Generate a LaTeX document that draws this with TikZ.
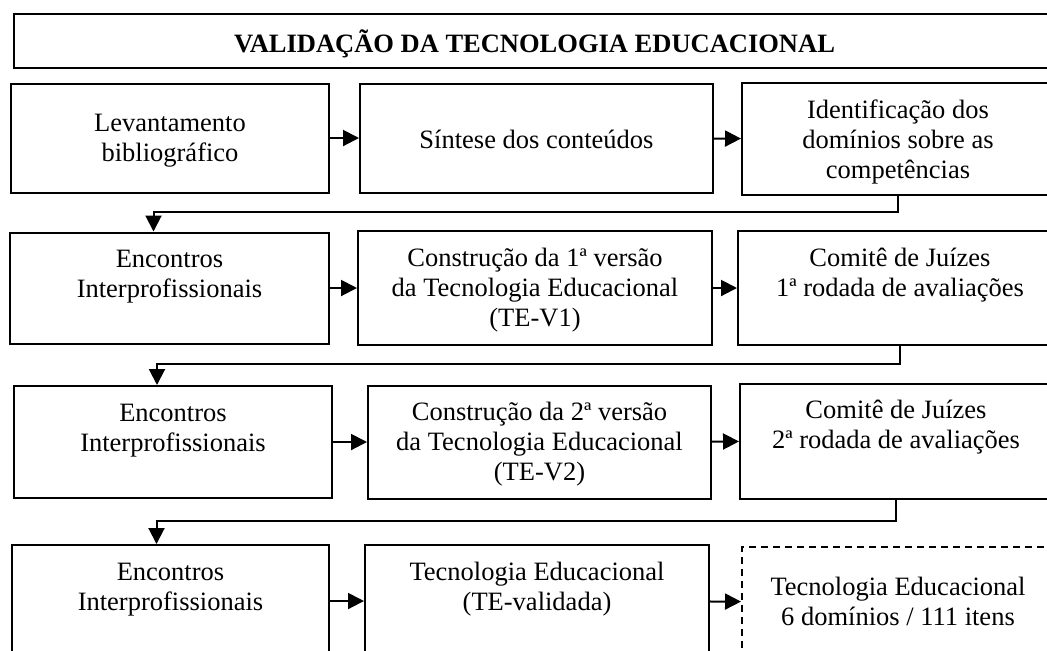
\documentclass[tikz,border=0pt]{standalone}
\usepackage{fontspec}
\setmainfont{Liberation Serif}
\usetikzlibrary{arrows.meta}
\begin{document}
\begin{tikzpicture}[x=0.5pt,y=-0.5pt]
\tikzstyle{every node}=[rectangle,draw,line width=1pt,align=center,inner sep=0pt,font=\fontsize{13.25}{15}\selectfont]
\tikzstyle{duas}=[text height=32.5pt]
\tikzstyle{tres}=[text height=47.5pt]
\tikzstyle{seta}=[line width=1pt,-{Triangle[length=8pt,width=8pt]}]
\useasboundingbox (0,0) rectangle (1047,650);
\node (t) at (534.5,41) [minimum width=520.5pt,text height=19pt,text depth=8pt] {\bfseries VALIDAÇÃO DA TECNOLOGIA EDUCACIONAL};
\node (a) at (170,138) [minimum width=159pt,text height=39pt,text depth=15.5pt] {Levantamento\\bibliográfico};
\node (b) at (536.5,138) [minimum width=176.5pt,text height=32.5pt,text depth=22pt] {Síntese dos conteúdos};
\node (c) at (898,139) [tres,minimum width=156pt,text depth=8.5pt] {Identificação dos\\domínios sobre as\\competências};
\node (d) at (169.5,288) [duas,minimum width=159.5pt,text depth=23pt] {Encontros\\Interprofissionais};
\node (e) at (535,288) [tres,minimum width=177pt,text depth=9.5pt] {Construção da 1ª versão\\da Tecnologia Educacional\\(TE-V1)};
\node (f) at (900,288) [duas,minimum width=162pt,text depth=24.5pt] {Comitê de Juízes\\1ª rodada de avaliações};
\node (g) at (173,442) [duas,minimum width=159pt,text depth=23.5pt] {Encontros\\Interprofissionais};
\node (h) at (539.5,442) [tres,minimum width=171.5pt,text depth=9pt] {Construção da 2ª versão\\da Tecnologia Educacional\\(TE-V2)};
\node (i) at (896,441) [duas,minimum width=156pt,text depth=25pt] {Comitê de Juízes\\2ª rodada de avaliações};
\node (j) at (170.5,601) [duas,minimum width=158.5pt,text depth=23.5pt] {Encontros\\Interprofissionais};
\node (k) at (537,601) [duas,minimum width=172pt,text depth=23.5pt] {Tecnologia Educacional\\(TE-validada)};
\node (l) at (898,602) [minimum width=156pt,text height=39pt,text depth=16pt,dash pattern=on 3.5pt off 2.5pt] {Tecnologia Educacional\\6 domínios / 111 itens};
\draw [seta] (a) -- (b);
\draw [seta] (b) -- (c);
\draw [seta] (c.south) -- ++(0,16) -| ([xshift=-8pt]d.north);
\draw [seta] (d) -- (e);
\draw [seta] (e) -- (f);
\draw [seta] (f.south) -- ++(0,18) -| ([xshift=-8pt]g.north);
\draw [seta] (g) -- (h);
\draw [seta] (h) -- (i);
\draw [seta] (i.south) -- ++(0,21) -| ([xshift=-7pt]j.north);
\draw [seta] (j) -- (k);
\draw [seta] (k) -- (l);
\end{tikzpicture}
\end{document}
